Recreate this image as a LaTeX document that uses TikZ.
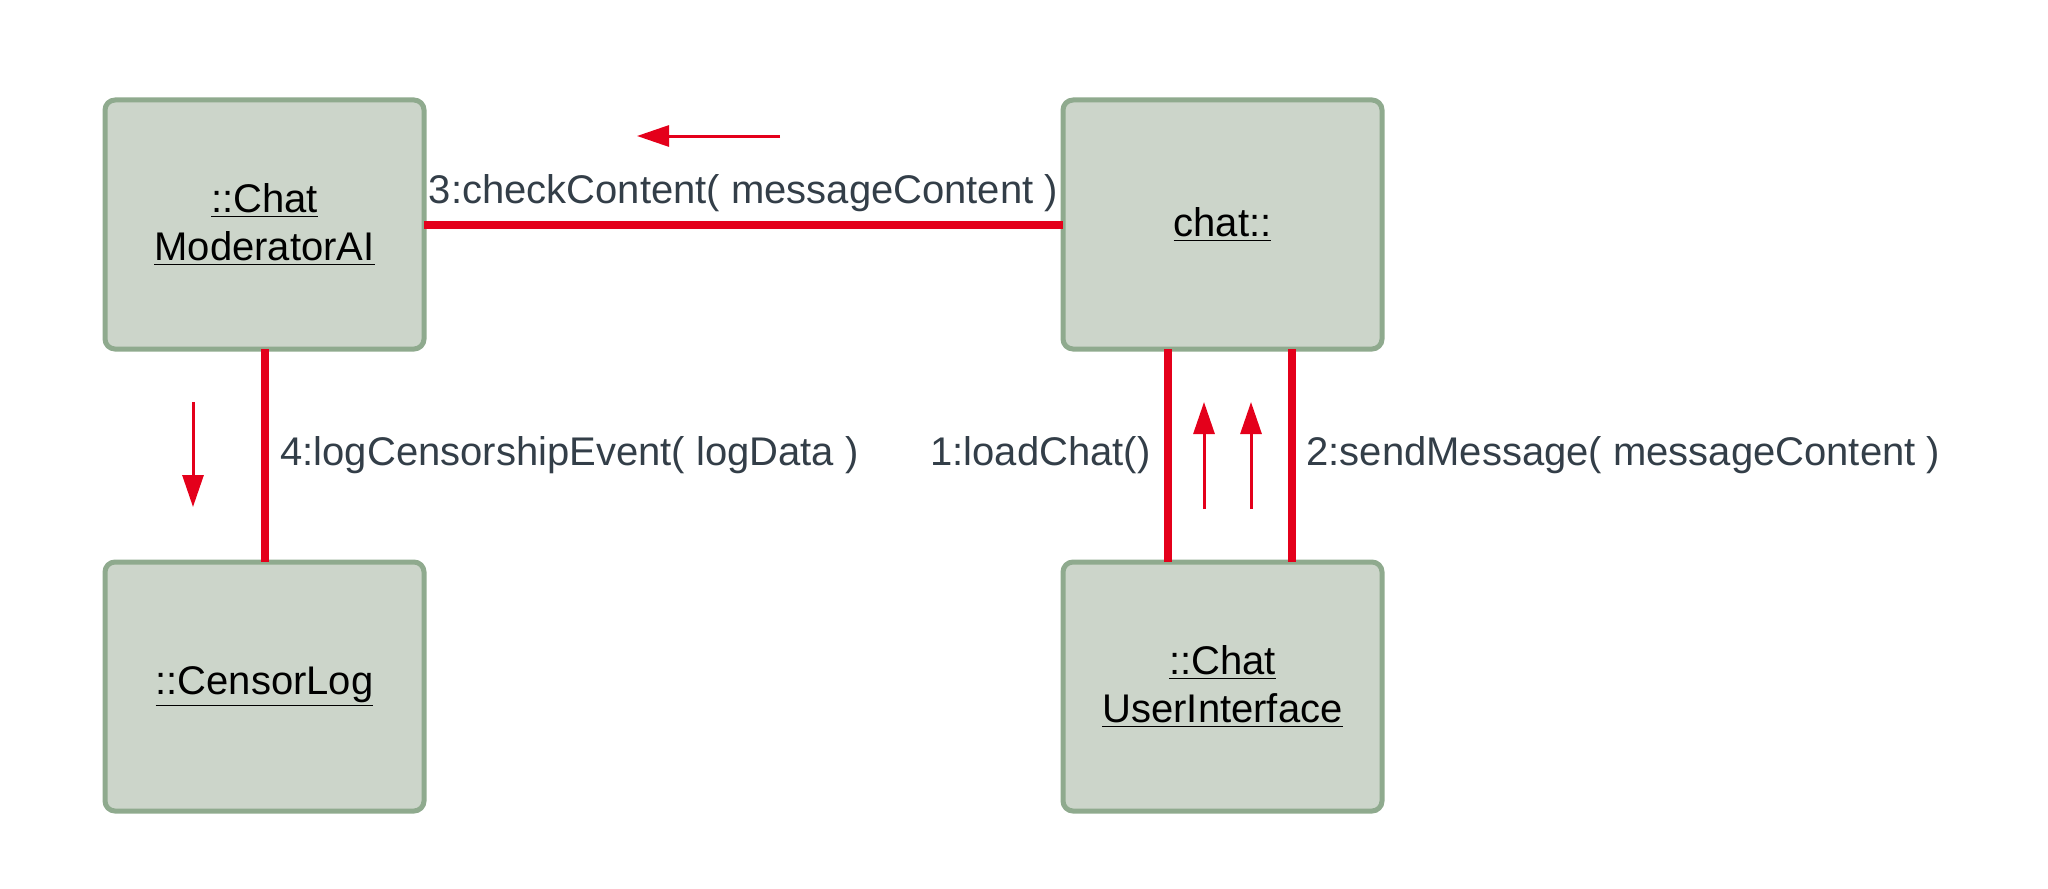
\documentclass[tikz,border=0pt]{standalone}
\usepackage{fontspec}
\setmainfont{Liberation Sans}
\usetikzlibrary{positioning,arrows.meta,calc}

\definecolor{boxfill}{RGB}{204,213,202}
\definecolor{boxline}{RGB}{143,170,142}
\definecolor{msgred}{RGB}{228,0,27}
\definecolor{msgtext}{RGB}{51,62,72}

\begin{document}
\begin{tikzpicture}[x=0.5pt,y=-0.5pt,
  obj/.style={rectangle,draw=boxline,fill=boxfill,line width=2.5pt,rounded corners=5pt,minimum width=159.5pt,minimum height=124.5pt,outer sep=0pt,align=center,font=\fontsize{20}{24}\selectfont},
  link/.style={draw=msgred,line width=4pt},
  msg/.style={text=msgtext,font=\fontsize{20}{24}\selectfont,inner sep=0pt},
  dir/.style={draw=msgred,line width=1.5pt,-{Triangle[length=16pt,width=10.5pt]}}]

\useasboundingbox (0,0) rectangle (2048,888);

%%%%%%%%%%%%%%%%%%%%%% OBJECTS

\node (ModAI) [obj] at (264.5,224.5) {\underline{::Chat}\\\underline{ModeratorAI}};
\node (Chat) [obj,right=319.5pt of ModAI] {\underline{chat::}};
\node (CLog) [obj,below=106.5pt of ModAI] {\underline{::CensorLog}};
\node (ChatUI) [obj,below=106.5pt of Chat] {\underline{::Chat}\\\underline{UserInterface}};

%%%%%%%%%%%%%%%%%%%%%% LINKS

\draw[link] (ModAI) -- node[msg,above=4.5pt] {3:checkContent( messageContent )} (Chat);
\draw[link] (ModAI) -- node[msg,right=6pt] {4:logCensorshipEvent( logData )} (CLog);
\draw[link] ([xshift=-27.5pt]Chat.south) -- node[msg,left=6.5pt] {1:loadChat()} ([xshift=-27.5pt]ChatUI.north);
\draw[link] ([xshift=34.5pt]Chat.south) -- node[msg,right=5.5pt] {2:sendMessage( messageContent )} ([xshift=34.5pt]ChatUI.north);

%%%%%%%%%%%%%%%%%%%%%% MESSAGE DIRECTIONS

\coordinate (M3s) at (780,136);
\coordinate (M3e) at (637,136);
\coordinate (M4s) at (193,402);
\coordinate (M4e) at (193,507);
\coordinate (M1s) at (1204,509);
\coordinate (M1e) at (1204,402);
\coordinate (M2s) at (1251,509);
\coordinate (M2e) at (1251,402);

\draw[dir] (M3s) -- (M3e);
\draw[dir] (M4s) -- (M4e);
\draw[dir] (M1s) -- (M1e);
\draw[dir] (M2s) -- (M2e);

\end{tikzpicture}
\end{document}
